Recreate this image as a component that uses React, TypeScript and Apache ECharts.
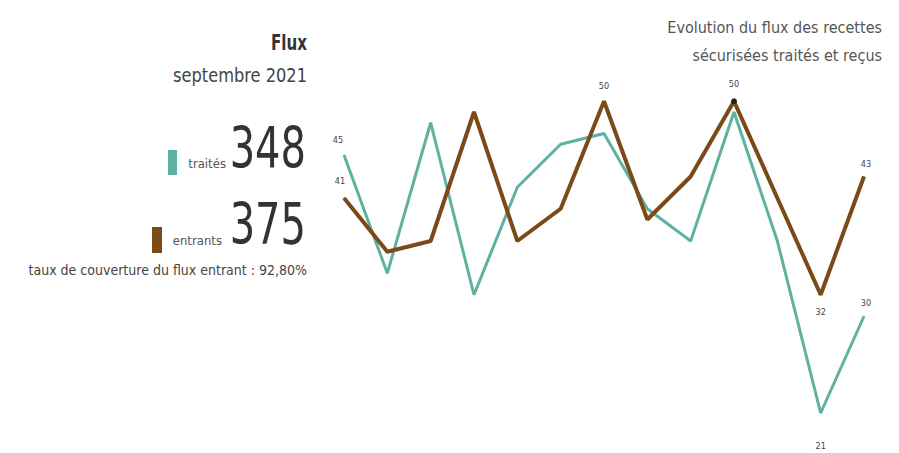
import React, { useEffect, useRef } from "react";
import * as echarts from "echarts";

const months = ["1", "2", "3", "4", "5", "6", "7", "8", "9", "10", "11", "12", "13"];
const traites = [45, 34, 48, 32, 42, 46, 47, 40, 37, 49, 37, 21, 30];
const entrants = [41, 36, 37, 49, 37, 40, 50, 39, 43, 50, 41, 32, 43];
// indices of points carrying a value label, with position
const traitesLabels: Record<number, { pos: string; dist: number; dx?: number }> = {
  0: { pos: "top", dist: 10, dx: -6 },
  11: { pos: "bottom", dist: 28 },
  12: { pos: "top", dist: 8, dx: 2 },
};
const entrantsLabels: Record<number, { pos: string; dist: number; dx?: number }> = {
  0: { pos: "top", dist: 12, dx: -4 },
  6: { pos: "top", dist: 10 },
  9: { pos: "top", dist: 10 },
  11: { pos: "bottom", dist: 12 },
  12: { pos: "top", dist: 8, dx: 2 },
};
const markedEntrant = 9;

const TEAL = "#5fb1a2";
const BROWN = "#7a4a18";
const FONT = "'DejaVu Sans Condensed', 'Roboto', sans-serif";

function buildData(values: number[], labels: Record<number, { pos: string; dist: number; dx?: number }>, marked = -1) {
  return values.map((v, i) => {
    const l = labels[i];
    const item: any = { value: v };
    if (i === marked) {
      item.symbolSize = 6;
      item.itemStyle = { color: "#222" };
    }
    if (l) {
      item.label = {
        show: true,
        position: l.pos,
        distance: l.dist,
        offset: [l.dx || 0, 0],
        fontSize: 9,
        color: "#444",
        fontFamily: FONT,
      };
    }
    return item;
  });
}

export default function App() {
  const ref = useRef<HTMLDivElement>(null);
  useEffect(() => {
    if (!ref.current) return;
    const chart = echarts.init(ref.current, null, { renderer: "svg" });
    chart.setOption({
      animation: false,
      backgroundColor: "#ffffff",
      grid: { left: 344, width: 520, top: 47.5, height: 376.25 },
      xAxis: {
        type: "category",
        data: months,
        boundaryGap: false,
        show: false,
      },
      yAxis: { type: "value", min: 20, max: 55, show: false },
      series: [
        {
          type: "line",
          data: buildData(traites, traitesLabels),
          showSymbol: true,
          symbol: "circle",
          symbolSize: 1,
          lineStyle: { color: TEAL, width: 3 },
          itemStyle: { color: TEAL },
          z: 2,
        },
        {
          type: "line",
          data: buildData(entrants, entrantsLabels, markedEntrant),
          showSymbol: true,
          symbol: "circle",
          symbolSize: 1,
          lineStyle: { color: BROWN, width: 4 },
          itemStyle: { color: BROWN },
          z: 3,
        },
      ],
      graphic: [
        { type: "text", x: 307, y: 42, scaleX: 0.8, style: { text: "Flux", align: "right", verticalAlign: "middle", fontSize: 21, fontWeight: "bold", fontFamily: FONT, fill: "#333" } },
        { type: "text", x: 307, y: 75, scaleX: 0.95, style: { text: "septembre 2021", align: "right", verticalAlign: "middle", fontSize: 19, fontFamily: FONT, fill: "#444" } },
        { type: "text", x: 306, y: 148, scaleX: 0.78, style: { text: "348", align: "right", verticalAlign: "middle", fontSize: 57, fontFamily: FONT, fill: "#333" } },
        { type: "rect", shape: { x: 168, y: 150, width: 9, height: 25 }, style: { fill: TEAL } },
        { type: "text", x: 226, y: 163, style: { text: "traités", align: "right", verticalAlign: "middle", fontSize: 13, fontFamily: FONT, fill: "#555" } },
        { type: "text", x: 306, y: 224, scaleX: 0.78, style: { text: "375", align: "right", verticalAlign: "middle", fontSize: 57, fontFamily: FONT, fill: "#333" } },
        { type: "rect", shape: { x: 152, y: 227, width: 10, height: 26 }, style: { fill: BROWN } },
        { type: "text", x: 222, y: 240, style: { text: "entrants", align: "right", verticalAlign: "middle", fontSize: 13, fontFamily: FONT, fill: "#555" } },
        { type: "text", x: 307, y: 270, style: { text: "taux de couverture du flux entrant : 92,80%", align: "right", verticalAlign: "middle", fontSize: 14, fontFamily: FONT, fill: "#444" } },
        { type: "text", x: 882, y: 27, style: { text: "Evolution du flux des recettes", align: "right", verticalAlign: "middle", fontSize: 16, fontFamily: FONT, fill: "#555" } },
        { type: "text", x: 882, y: 55, style: { text: "sécurisées traités et reçus", align: "right", verticalAlign: "middle", fontSize: 16, fontFamily: FONT, fill: "#555" } },
      ],
    });
    return () => chart.dispose();
  }, []);
  return <div ref={ref} style={{ width: 899, height: 453, position: "absolute", left: 0, top: 0 }} />;
}
